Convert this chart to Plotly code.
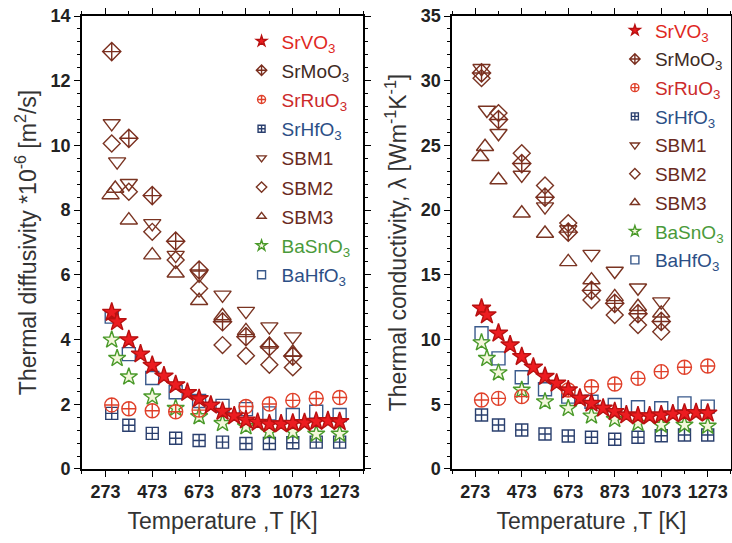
import plotly.graph_objects as go

# ---------------- data ----------------
T_std = [300, 373, 473, 573, 673, 773, 873, 973, 1073, 1173, 1273]
T_srvo3 = [300, 323, 373, 423, 473, 523, 573, 623, 673, 723, 773, 823, 873, 923, 973, 1023, 1073, 1123, 1173, 1223, 1273]
T_srmoo3 = [300, 373, 473, 573, 673, 773, 873, 973, 1073]
T_srruo3_d = [300, 373, 473, 573, 673, 873, 973, 1073, 1173, 1273]
T_srruo3_k = [300, 373, 473, 673, 773, 873, 973, 1073, 1173, 1273]
T_basno3 = [300, 323, 373, 473, 573, 673, 773, 873, 973, 1073, 1173, 1273]
T_sbm1 = [300, 323, 373, 473, 573, 673, 773, 873, 973, 1073]
T_sbm2 = [300, 373, 473, 573, 673, 773, 873, 973, 1073]
T_sbm3 = [295, 315, 373, 473, 573, 673, 773, 873, 973, 1073]

# thermal diffusivity (*1e-6 m^2/s)
D_srvo3 = [4.84, 4.55, 3.99, 3.55, 3.2, 2.87, 2.6, 2.36, 2.17, 1.97, 1.78, 1.64, 1.51, 1.44, 1.39, 1.39, 1.41, 1.43, 1.47, 1.49, 1.46]
D_srmoo3 = [12.9, 10.22, 8.45, 7.04, 6.15, 4.55, 4.09, 3.78, 3.49]
D_srruo3 = [1.98, 1.86, 1.8, 1.77, 1.82, 1.93, 2.01, 2.12, 2.18, 2.21]
D_srhfo3 = [1.72, 1.35, 1.1, 0.95, 0.88, 0.83, 0.79, 0.79, 0.81, 0.83, 0.83]
D_sbm1 = [10.68, 9.5, 8.83, 7.59, 6.61, 6.0, 5.38, 4.88, 4.4, 4.09]
D_sbm2 = [10.06, 8.57, 7.33, 6.46, 5.58, 3.83, 3.5, 3.22, 3.14]
D_sbm3 = [8.47, 8.67, 7.69, 6.61, 6.05, 5.2, 4.73, 4.27, 3.85, 3.6]
D_basno3 = [3.99, 3.42, 2.85, 2.23, 1.88, 1.62, 1.41, 1.31, 1.15, 1.15, 1.08, 1.08]
D_bahfo3 = [4.71, 3.55, 2.81, 2.37, 2.1, 1.95, 1.85, 1.72, 1.67, 1.77, 1.67]

# thermal conductivity (W m^-1 K^-1)
K_srvo3 = [12.42, 11.9, 10.49, 9.58, 8.68, 7.86, 7.14, 6.62, 6.1, 5.46, 5.07, 4.69, 4.43, 4.17, 4.1, 4.1, 4.17, 4.25, 4.3, 4.35, 4.3]
K_srmoo3 = [30.6, 27.0, 23.6, 21.0, 18.3, 13.8, 12.8, 12.0, 11.4]
K_srruo3 = [5.33, 5.46, 5.59, 6.1, 6.36, 6.57, 7.0, 7.52, 7.86, 7.96]
K_srhfo3 = [4.17, 3.4, 3.01, 2.7, 2.55, 2.45, 2.3, 2.45, 2.57, 2.63, 2.63]
K_sbm1 = [30.96, 27.74, 25.94, 22.72, 20.27, 18.5, 16.6, 15.3, 14.0, 12.93]
K_sbm2 = [30.2, 27.5, 24.4, 21.9, 19.0, 13.06, 11.9, 11.13, 10.61]
K_sbm3 = [24.13, 24.9, 22.33, 19.76, 18.2, 16.0, 14.6, 13.3, 12.54, 12.03]
K_basno3 = [9.76, 8.55, 7.44, 6.1, 5.2, 4.69, 4.1, 3.84, 3.53, 3.4, 3.4, 3.32]
K_bahfo3 = [10.49, 8.55, 7.09, 6.16, 5.59, 5.2, 4.95, 4.77, 4.69, 5.07, 4.82]

x_ticks = [273, 473, 673, 873, 1073, 1273]

# ---------------- styles ----------------
FONT = "Liberation Sans, Arial, sans-serif"
BROWN = "#7a3422"
series = [
    # key, name, text colour, symbol, size, colour, fill
    ("srvo3", "SrVO<sub>3</sub>", "#e0281e", "star", 14, "#b81010", "#ec1c20"),
    ("srmoo3", "SrMoO<sub>3</sub>", "#3e2a24", "diamond-cross-open", 14, "#7a2e1e", None),
    ("srruo3", "SrRuO<sub>3</sub>", "#cc2a2a", "circle-cross-open", 14, "#e0402a", None),
    ("srhfo3", "SrHfO<sub>3</sub>", "#2c4f86", "square-cross-open", 12, "#2a3f6e", None),
    ("sbm1", "SBM1", "#6a2a20", "triangle-down-open", 15, BROWN, None),
    ("sbm2", "SBM2", "#6a2a20", "diamond-open", 13, BROWN, None),
    ("sbm3", "SBM3", "#6a2a20", "triangle-up-open", 15, BROWN, None),
    ("basno3", "BaSnO<sub>3</sub>", "#4a9a3a", "star", 13, "#4a9a2a", "#f4f7dc"),
    ("bahfo3", "BaHfO<sub>3</sub>", "#2c4f86", "square-open", 13, "#3a5a8c", None),
]
style = {s[0]: s for s in series}

left_data = {
    "srvo3": (T_srvo3, D_srvo3), "srmoo3": (T_srmoo3, D_srmoo3), "srruo3": (T_srruo3_d, D_srruo3),
    "srhfo3": (T_std, D_srhfo3), "sbm1": (T_sbm1, D_sbm1), "sbm2": (T_sbm2, D_sbm2),
    "sbm3": (T_sbm3, D_sbm3), "basno3": (T_basno3, D_basno3), "bahfo3": (T_std, D_bahfo3),
}
right_data = {
    "srvo3": (T_srvo3, K_srvo3), "srmoo3": (T_srmoo3, K_srmoo3), "srruo3": (T_srruo3_k, K_srruo3),
    "srhfo3": (T_std, K_srhfo3), "sbm1": (T_sbm1, K_sbm1), "sbm2": (T_sbm2, K_sbm2),
    "sbm3": (T_sbm3, K_sbm3), "basno3": (T_basno3, K_basno3), "bahfo3": (T_std, K_bahfo3),
}
draw_order = ["bahfo3", "srhfo3", "basno3", "srruo3", "sbm2", "sbm3", "sbm1", "srmoo3", "srvo3"]


def marker(key, size=None):
    _, _, _, sym, sz, col, fill = style[key]
    m = dict(symbol=sym, size=size or sz, line=dict(color=col, width=1.4))
    m["color"] = fill if fill else col
    return m


fig = go.Figure()
for ax, data in (("", left_data), ("2", right_data)):
    for key in draw_order:
        xs, ys = data[key]
        fig.add_trace(go.Scatter(x=xs, y=ys, mode="markers", marker=marker(key),
                                 xaxis="x" + ax, yaxis="y" + ax, showlegend=False,
                                 cliponaxis=False))
    # legend entries
    for key, name, tcol, *_ in series:
        fig.add_trace(go.Scatter(x=[None], y=[None], mode="markers",
                                 marker=marker(key, size=8 if key != "srhfo3" else 7),
                                 name=f"<span style='color:{tcol}'>{name}</span>",
                                 xaxis="x" + ax, yaxis="y" + ax, legend="legend" + ax,
                                 legendgroup=key + ax, showlegend=True))

axis_common = dict(showline=True, linecolor="black", linewidth=1.5, mirror="allticks",
                   ticks="outside", ticklen=6, tickwidth=1.3, tickcolor="black",
                   showgrid=False, zeroline=False, automargin=False,
                   tickfont=dict(family=FONT, size=18, color="#222", weight="bold"))
title_font = dict(family=FONT, size=23, color="#333")

xaxis_common = dict(axis_common, range=[173, 1373], tickvals=x_ticks,
                    minor=dict(dtick=100, tick0=273, ticks="outside", ticklen=3, tickcolor="black"),
                    title=dict(text="Temperature ,T [K]", font=title_font, standoff=12))

fig.update_layout(
    width=732, height=543, margin=dict(l=0, r=0, t=0, b=0, autoexpand=False),
    paper_bgcolor="white", plot_bgcolor="white",
    xaxis=dict(xaxis_common, domain=[0.112, 0.496], anchor="y"),
    xaxis2=dict(xaxis_common, domain=[0.6175, 0.9986], anchor="y2"),
    yaxis=dict(axis_common, range=[0, 14], dtick=2, anchor="x", domain=[0.1363, 0.9705],
               minor=dict(dtick=0.4, ticks="outside", ticklen=3, tickcolor="black"),
               title=dict(text="Thermal diffusivity *10<sup>-6</sup> [m<sup>2</sup>/s]",
                          font=title_font, standoff=8)),
    yaxis2=dict(axis_common, range=[0, 35], dtick=5, anchor="x2", domain=[0.1363, 0.9705],
                minor=dict(dtick=1, ticks="outside", ticklen=3, tickcolor="black"),
                title=dict(text="Thermal conductivity, λ [Wm<sup>-1</sup>K<sup>-1</sup>]",
                           font=title_font, standoff=8)),
    legend=dict(x=0.33, y=0.959, xanchor="left", yanchor="top", bgcolor="rgba(0,0,0,0)",
                font=dict(family=FONT, size=19), tracegroupgap=1.5, itemclick=False),
    legend2=dict(x=0.84, y=0.979, xanchor="left", yanchor="top", bgcolor="rgba(0,0,0,0)",
                 font=dict(family=FONT, size=19), tracegroupgap=1, itemclick=False),
)

fig.write_html("out.html")
